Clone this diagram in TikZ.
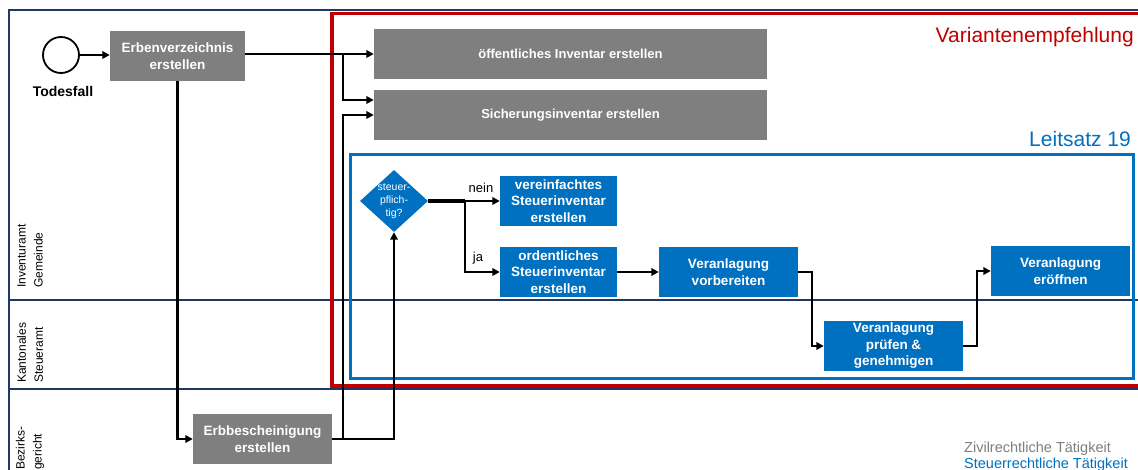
\documentclass[tikz,border=0pt]{standalone}
\usepackage{fontspec}
\setmainfont{Liberation Sans}
\usetikzlibrary{arrows.meta,shapes.geometric,calc}
\definecolor{boxgray}{HTML}{7F7F7F}
\definecolor{boxblue}{HTML}{0070C0}
\definecolor{varred}{HTML}{C00000}
\definecolor{poolline}{HTML}{1F3864}
\definecolor{leggray}{HTML}{7F7F7F}
\tikzset{
  proc/.style={rectangle, text=white, font=\fontsize{13.5}{16.5}\selectfont\bfseries,
    align=center, inner sep=0pt, minimum height=50pt},
  gproc/.style={proc, fill=boxgray},
  bproc/.style={proc, fill=boxblue},
  flow/.style={draw=black, line width=2.2pt, -{Triangle[length=7.5pt,width=7.5pt]}},
  thickline/.style={draw=black, line width=3.5pt},
  poolstroke/.style={draw=poolline, line width=1.2pt},
  lane/.style={rotate=90, anchor=west, align=left, inner sep=0pt,
    font=\fontsize{12}{17}\selectfont},
  edgelabel/.style={font=\fontsize{13}{15}\selectfont, inner sep=0pt},
  bigtitle/.style={font=\fontsize{21}{24}\selectfont, inner sep=0pt, anchor=base east},
  legend/.style={font=\fontsize{14.5}{16}\selectfont, inner sep=0pt, anchor=base west}
}
\begin{document}
\begin{tikzpicture}[x=1pt,y=-1pt]
\useasboundingbox (0,0) rectangle (1138,470);
\fill[white] (0,0) rectangle (1138,470);

% pool and lanes
\draw[poolstroke] (9,472) -- (9,10) -- (1140,10);
\draw[poolstroke] (9,300) -- (1140,300);
\draw[poolstroke] (9,389) -- (1140,389);

\node[lane] (lane1) at (30,288) {Inventuramt\\Gemeinde};
\node[lane] (lane2) at (30,383) {Kantonales\\Steueramt};
\node[lane] (lane3) at (30,470) {Bezirks-\\gericht};

% frames
\draw[varred, line width=3.5pt] (332,13.5) rectangle (1141,386);
\draw[boxblue, line width=3pt] (350,155) rectangle (1133.5,378);
\node[bigtitle, text=varred] (vtitle) at (1134,43) {Variantenempfehlung};
\node[bigtitle, text=boxblue] (ltitle) at (1131,147) {Leitsatz 19};

% start event
\node[circle, draw=black, line width=1.8pt, minimum size=36pt, inner sep=0pt, fill=white] (start) at (61,55) {};
\node[font=\fontsize{14}{16}\selectfont\bfseries, inner sep=0pt, anchor=base] (todes) at (63,97) {Todesfall};

% gray processes
\node[gproc, minimum width=135pt] (erbv) at (177.5,56) {Erbenverzeichnis\\erstellen};
\node[gproc, minimum width=393pt, font=\fontsize{13}{16}\selectfont\bfseries] (oeff) at (570.5,54) {öffentliches Inventar erstellen};
\node[gproc, minimum width=393pt, font=\fontsize{13}{16}\selectfont\bfseries] (sich) at (570.5,115) {Sicherungsinventar erstellen};
\node[gproc, minimum width=139pt] (erbb) at (262.5,439) {Erbbescheinigung\\erstellen};

% blue processes
\node[diamond, fill=boxblue, minimum width=68pt, minimum height=62pt, inner sep=0pt] (dia) at (394,201) {};
\node[text=white, align=center, inner sep=0pt, font=\fontsize{10.5}{13}\selectfont] (diatext) at (dia.center) {steuer-\\pflich-\\tig?};
\node[bproc, minimum width=117pt] (ver) at (558.5,201) {vereinfachtes\\Steuerinventar\\erstellen};
\node[bproc, minimum width=117pt] (ord) at (558.5,272) {ordentliches\\Steuerinventar\\erstellen};
\node[bproc, minimum width=139pt] (vorb) at (728.5,272) {Veranlagung\\vorbereiten};
\node[bproc, minimum width=139pt] (pruef) at (893.5,346) {Veranlagung\\prüfen \&\\genehmigen};
\node[bproc, minimum width=139pt] (eroe) at (1060.5,271) {Veranlagung\\eröffnen};

% junction coordinates
\coordinate (j1) at (343,54);
\coordinate (j2) at (343,300);
\coordinate (j3) at (465,201);
\coordinate (j4) at (812,300);
\coordinate (j5) at (977,300);

% connectors
\draw[flow] (start.east) -- (start.east -| erbv.west);
\draw[flow] (erbv.east |- oeff.west) -- (oeff.west);
\draw[flow] (j1) |- ($(sich.west)+(0,-15)$);
\draw[flow] (erbv.south) |- (erbb.west);
\draw[flow] (erbb.east) -| (j2) |- (sich.west);
\draw[flow] (erbb.east) -| (dia.south);
\draw[thickline] (dia.east) -- (j3);
\draw[flow] (j3) -- (ver.west);
\draw[flow] (j3) |- (ord.west);
\draw[flow] (ord.east) -- (vorb.west);
\draw[flow] (vorb.east) -| (j4) |- (pruef.west);
\draw[flow] (pruef.east) -| (j5) |- (eroe.west);

% edge labels
\node[edgelabel] (nein) at (481,188) {nein};
\node[edgelabel] (ja) at (478,258) {ja};

% legend
\node[legend, text=leggray] (leg1) at (964,452) {Zivilrechtliche Tätigkeit};
\node[legend, text=boxblue] (leg2) at (964,468) {Steuerrechtliche Tätigkeit};
\end{tikzpicture}
\end{document}
